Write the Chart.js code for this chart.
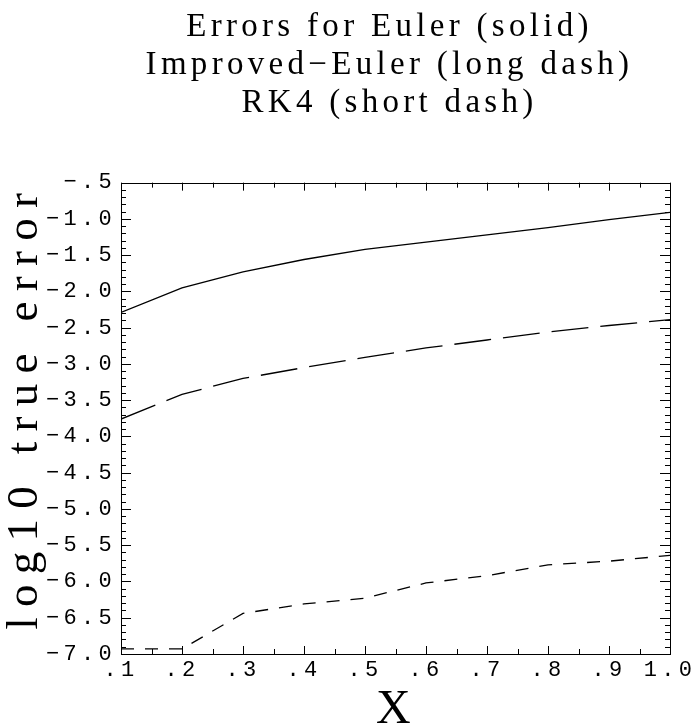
<!DOCTYPE html>
<html>
<head>
<meta charset="utf-8">
<script src="https://cdn.jsdelivr.net/npm/chart.js@4.4.1/dist/chart.umd.min.js"></script>
<style>
  html, body { margin: 0; padding: 0; background: #fff; }
</style>
</head>
<body>
<canvas id="errChart" width="694" height="727"></canvas>
<script>
// x positions and log10 errors
const xValues = [0.1, 0.2, 0.3, 0.4, 0.5, 0.6, 0.7, 0.8, 0.9, 1.0];
const euler = [-2.29, -1.95, -1.73, -1.56, -1.42, -1.32, -1.22, -1.12, -1.01, -0.91];
const improvedEuler = [-3.76, -3.42, -3.20, -3.05, -2.91, -2.78, -2.67, -2.56, -2.47, -2.39];
const rk4 = [-6.93, -6.93, -6.44, -6.31, -6.23, -6.02, -5.92, -5.77, -5.72, -5.64];

const xTickLabels = ['.1', '.2', '.3', '.4', '.5', '.6', '.7', '.8', '.9', '1.0'];
const yTickLabels = ['\u2212.5', '\u22121.0', '\u22121.5', '\u22122.0', '\u22122.5', '\u22123.0', '\u22123.5',
  '\u22124.0', '\u22124.5', '\u22125.0', '\u22125.5', '\u22126.0', '\u22126.5', '\u22127.0'];

const titleLines = ['Errors for Euler (solid)', 'Improved\u2212Euler (long dash)', 'RK4 (short dash)'];

function xMajor(v) { return Math.abs(v * 10 - Math.round(v * 10)) < 1e-6; }
function yMajor(v) { return Math.abs(v * 2 - Math.round(v * 2)) < 1e-6; }

function toPoints(ys) {
  return xValues.map((x, i) => ({ x: x, y: ys[i] }));
}

// wide letter spacing like the old plotting font, and the box with inward ticks
const frameTicks = {
  id: 'frameTicks',
  beforeDraw(chart) {
    chart.ctx.letterSpacing = '4.3px';
  },
  afterDatasetsDraw(chart) {
    // only the y axis title is drawn after this point
    chart.ctx.letterSpacing = '10.3px';
  },
  afterDraw(chart) {
    const ctx = chart.ctx;
    const a = chart.chartArea;
    const xs = chart.scales.x, ys = chart.scales.y;
    ctx.save();
    ctx.letterSpacing = '0px';
    ctx.strokeStyle = '#000';
    ctx.lineWidth = 1;
    ctx.beginPath();
    xs.ticks.forEach(t => {
      const px = Math.round(xs.getPixelForValue(t.value)) + 0.5;
      const len = xMajor(t.value) ? 8 : 5;
      ctx.moveTo(px, a.bottom); ctx.lineTo(px, a.bottom - len);
      ctx.moveTo(px, a.top); ctx.lineTo(px, a.top + len);
    });
    ys.ticks.forEach(t => {
      const py = Math.round(ys.getPixelForValue(t.value)) + 0.5;
      const len = yMajor(t.value) ? 10 : 5;
      ctx.moveTo(a.left, py); ctx.lineTo(a.left + len, py);
      ctx.moveTo(a.right, py); ctx.lineTo(a.right - len, py);
    });
    ctx.stroke();
    ctx.strokeRect(Math.round(a.left) + 0.5, Math.round(a.top) + 0.5,
      Math.round(a.right - a.left), Math.round(a.bottom - a.top));
    ctx.restore();
    ctx.letterSpacing = '0px';
  }
};

const lineStyle = { borderColor: '#000', borderWidth: 1.3, pointRadius: 0, tension: 0, fill: false };

new Chart(document.getElementById('errChart'), {
  type: 'line',
  data: {
    datasets: [
      Object.assign({ label: 'Euler', data: toPoints(euler) }, lineStyle),
      Object.assign({ label: 'Improved-Euler', data: toPoints(improvedEuler), borderDash: [37, 12] }, lineStyle),
      Object.assign({ label: 'RK4', data: toPoints(rk4), borderDash: [13, 11] }, lineStyle)
    ]
  },
  options: {
    responsive: false,
    animation: false,
    devicePixelRatio: 1,
    // negative right padding only moves the centre of the full width title
    layout: { padding: { left: 0, top: 0, bottom: 0, right: -85 } },
    plugins: {
      legend: { display: false },
      tooltip: { enabled: false },
      title: {
        display: true,
        text: titleLines,
        color: '#000',
        font: { family: 'Liberation Serif', size: 33, weight: 'normal', lineHeight: 1.158 },
        padding: { top: 8, bottom: 60 }
      }
    },
    scales: {
      x: {
        type: 'linear',
        min: 0.1,
        max: 1.0,
        grid: { display: false, drawTicks: false },
        border: { display: false },
        ticks: {
          stepSize: 0.05,
          autoSkip: false,
          maxRotation: 0,
          color: '#000',
          padding: 3,
          font: { family: 'Liberation Mono', size: 22 },
          callback: v => xMajor(v) ? xTickLabels[Math.round(v * 10) - 1] : ''
        },
        title: {
          display: true,
          text: 'X',
          color: '#000',
          font: { family: 'Liberation Serif', size: 48, weight: 'normal', lineHeight: 0.7 },
          padding: 0
        },
        afterFit(s) { s.height = 73; s.paddingLeft = 0; s.paddingRight = 24; }
      },
      y: {
        min: -7,
        max: -0.5,
        grid: { display: false, drawTicks: false, z: 1 },
        border: { display: false },
        ticks: {
          stepSize: 0.1,
          autoSkip: false,
          color: '#000',
          padding: 5,
          font: { family: 'Liberation Mono', size: 22 },
          callback: v => yMajor(v) ? yTickLabels[Math.round((-0.5 - v) * 2)] : ''
        },
        title: {
          display: true,
          align: 'end',
          text: 'log10 true error',
          color: '#000',
          font: { family: 'Liberation Serif', size: 45, weight: 'normal', lineHeight: 1.1 },
          padding: 0
        },
        afterFit(s) { s.width = 121; }
      }
    }
  },
  plugins: [frameTicks]
});
</script>
</body>
</html>
